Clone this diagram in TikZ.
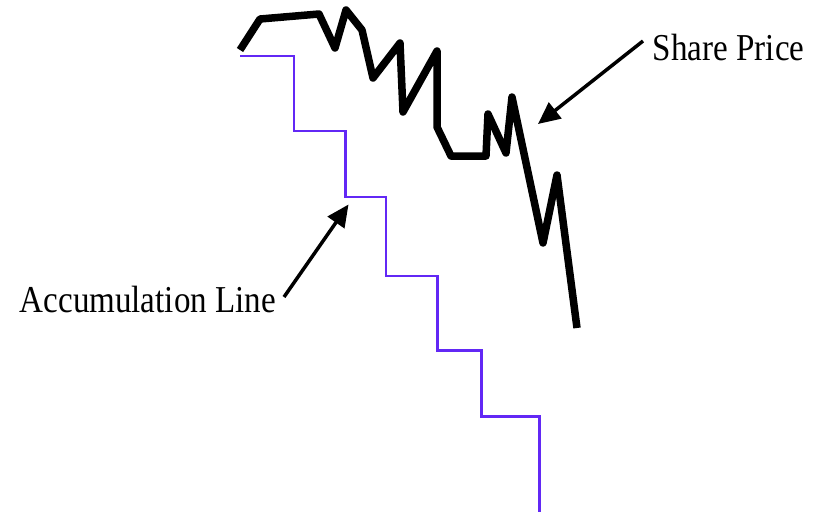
\documentclass[tikz,border=0pt]{standalone}
\usepackage{fontspec}
\setmainfont{Liberation Serif}
\usetikzlibrary{arrows.meta}
\definecolor{accpurple}{RGB}{98,40,245}
\tikzset{
  pricestyle/.style={line width=7.5pt, line join=round, black},
  accstyle/.style={line width=2.2pt, accpurple},
  labelstyle/.style={inner sep=0pt, anchor=base west, font=\fontsize{38}{40}\selectfont},
  pointer/.style={line width=3.5pt, -{Triangle[length=22pt,width=20pt]}}
}
\begin{document}
\begin{tikzpicture}[x=1pt,y=-1pt]
\useasboundingbox (0,0) rectangle (823,512);
% share price
\draw[pricestyle] (240,50) -- (260,19) -- (319,14) -- (335,48) -- (346,10) -- (362,30)
  -- (373,78) -- (400,43) -- (403,112) -- (437,51) -- (437,127) -- (451,156)
  -- (486,156) -- (488,114) -- (506,153) -- (512,97) -- (543,243) -- (557,175) -- (577,328);
% accumulation line
\draw[accstyle] (240,56) -- (294,56) -- (294,131) -- (345.5,131) -- (345.5,197) -- (386,197)
  -- (386,276) -- (437.5,276) -- (437.5,350.5) -- (481.5,350.5) -- (481.5,416.5)
  -- (539.5,416.5) -- (539.5,513);
% labels
\node[labelstyle] (sp) at (652.7,60) {\scalebox{0.87}[1]{Share Price}};
\node[labelstyle] (al) at (19.6,312.7) {\scalebox{0.87}[1]{Accumulation Line}};
\coordinate (sptip) at (538,124);
\coordinate (altip) at (348.5,204.5);
\coordinate (spstart) at (643,41);
\coordinate (alstart) at (284,297);
\draw[pointer] (spstart) -- (sptip);
\draw[pointer] (alstart) -- (altip);
\end{tikzpicture}
\end{document}
